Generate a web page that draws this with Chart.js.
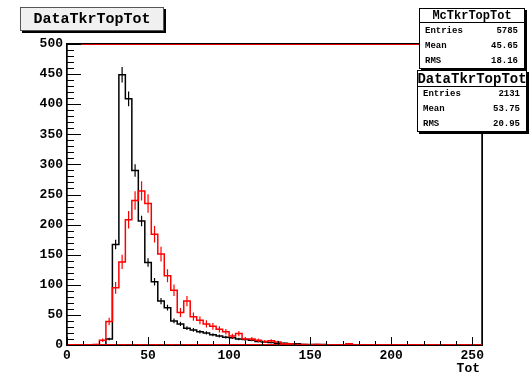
<!DOCTYPE html>
<html><head><meta charset="utf-8">
<script src="https://cdn.jsdelivr.net/npm/chart.js@4.4.1/dist/chart.umd.min.js"></script>
<style>html,body{margin:0;padding:0;background:#fff;}canvas{display:block;}</style>
</head><body>
<canvas id="c" width="529" height="375"></canvas>
<script>
// ---- data ----
const histTitle = 'DataTkrTopTot';
const xTitle = 'Tot';
const binWidth = 4;           // 64 bins over 0..256
const xMin = 0, xMax = 256;
const yMin = 0, yMax = 500;
const xTickLabels = [0, 50, 100, 150, 200, 250];
const yTickLabels = [0, 50, 100, 150, 200, 250, 300, 350, 400, 450, 500];

// MC histogram (black), normalised to data entries
const mcCounts = [
  0, 0, 0, 0, 0, 0, 10, 167, 449, 409, 290, 206, 137, 105, 73, 62,
  40, 35, 28, 25, 22, 20, 17, 15, 13, 12, 10, 9, 8, 6, 5, 4,
  3, 3, 2, 2, 1, 1, 1, 1, 0, 0, 0, 0, 0, 0, 0, 0,
  0, 0, 0, 0, 0, 0, 0, 0, 0, 0, 0, 0, 0, 0, 0, 0
];
// Data histogram (red)
const dataCounts = [
  0, 0, 0, 0, 1, 8, 39, 95, 138, 208, 240, 256, 235, 184, 151, 115,
  91, 54, 73, 47, 41, 35, 31, 26, 22, 15, 19, 10, 10, 8, 6, 7,
  5, 2, 2, 1, 1, 0, 1, 0, 0, 0, 0, 2, 0, 0, 0, 0,
  0, 0, 0, 0, 0, 0, 0, 0, 0, 0, 0, 0, 0, 0, 0, 0
];
const mcEntries = 5785, dataEntries = 2131;
const mcStatsName = 'McTkrTopTot';
const mcStatLabels = ['Entries', 'Mean', 'RMS'];
const mcStatValues = ['5785', '45.65', '18.16'];
const dataStatsName = 'DataTkrTopTot';
const dataStatLabels = ['Entries', 'Mean', 'RMS'];
const dataStatValues = ['2131', '53.75', '20.95'];

// ---- build library datasets ----
function stepPoints(counts) {
  const pts = counts.map((v, i) => ({x: xMin + i * binWidth, y: v}));
  pts.push({x: xMin + counts.length * binWidth, y: counts[counts.length - 1]});
  return pts;
}
function errPoints(counts, scale) {
  const pts = [];
  counts.forEach((v, i) => {
    if (v <= 0) return;
    const c = xMin + (i + 0.5) * binWidth;
    const e = Math.sqrt(v * scale);
    pts.push({x: c, y: v - e}, {x: c, y: v + e}, {x: c, y: null});
  });
  return pts;
}
const mcScale = dataEntries / mcEntries;

const FONT = "'Liberation Mono', 'Courier New', monospace";

const rootDecor = {
  id: 'rootDecor',
  beforeDraw(chart) {
    const ctx = chart.ctx;
    ctx.save();
    ctx.fillStyle = '#fff';
    ctx.fillRect(0, 0, chart.width, chart.height);
    ctx.restore();
  },
  afterDatasetsDraw(chart) {
    const {ctx, chartArea: a, scales: {x, y}} = chart;
    ctx.save();
    // frame
    ctx.strokeStyle = '#000';
    ctx.lineWidth = 2;
    ctx.strokeRect(a.left, a.top, a.right - a.left, a.bottom - a.top);
    ctx.strokeStyle = '#e00000';
    ctx.lineWidth = 1;
    ctx.strokeRect(a.left + 0.5, a.top + 0.5, a.right - a.left - 1, a.bottom - a.top - 1);
    // ticks
    ctx.strokeStyle = '#000';
    ctx.lineWidth = 1;
    ctx.beginPath();
    for (let v = yMin; v <= yMax; v += 10) {
      const py = Math.round(y.getPixelForValue(v)) + 0.5;
      const len = (v % 50 === 0) ? 14 : 7;
      ctx.moveTo(a.left, py); ctx.lineTo(a.left + len, py);
    }
    for (let v = xMin; v <= 250; v += 10) {
      const px = Math.round(x.getPixelForValue(v)) + 0.5;
      const len = (v % 50 === 0) ? 8 : 4;
      ctx.moveTo(px, a.bottom); ctx.lineTo(px, a.bottom - len);
    }
    ctx.stroke();
    // x axis title
    ctx.fillStyle = '#000';
    ctx.font = "bold 13px " + FONT;
    ctx.textAlign = 'right';
    ctx.textBaseline = 'middle';
    ctx.fillText(xTitle, a.right - 2, a.bottom + 24);
    ctx.restore();
  },
  afterDraw(chart) {
    const ctx = chart.ctx;
    ctx.save();
    function shadowBox(x0, y0, w, h, fill, sh, border) {
      ctx.fillStyle = '#000';
      ctx.fillRect(x0 + sh, y0 + sh, w, h);
      ctx.fillStyle = fill;
      ctx.fillRect(x0, y0, w, h);
      ctx.strokeStyle = border;
      ctx.lineWidth = 1;
      ctx.strokeRect(x0 + 0.5, y0 + 0.5, w - 1, h - 1);
    }
    // title box
    shadowBox(20, 7, 144, 24, '#f0f0f0', 2, '#555');
    ctx.fillStyle = '#000';
    ctx.font = "bold 15px " + FONT;
    ctx.textAlign = 'center';
    ctx.textBaseline = 'middle';
    ctx.fillText(histTitle, 92, 19);

    function statBox(x0, y0, w, h, sepY, name, nameSize, labels, values, rowYs) {
      shadowBox(x0, y0, w, h, '#fff', 2, '#000');
      ctx.strokeStyle = '#000';
      ctx.beginPath();
      ctx.moveTo(x0, sepY + 0.5); ctx.lineTo(x0 + w, sepY + 0.5);
      ctx.stroke();
      ctx.fillStyle = '#000';
      ctx.textBaseline = 'middle';
      ctx.textAlign = 'center';
      ctx.font = "bold " + nameSize + "px " + FONT;
      ctx.fillText(name, x0 + w / 2, (y0 + sepY) / 2 + 1);
      ctx.font = "bold 9px " + FONT;
      labels.forEach((l, i) => {
        ctx.textAlign = 'left';
        ctx.fillText(l, x0 + 6, rowYs[i]);
        ctx.textAlign = 'right';
        ctx.fillText(values[i], x0 + w - 7, rowYs[i]);
      });
    }
    statBox(419, 8, 106, 61, 22, mcStatsName, 12, mcStatLabels, mcStatValues, [31, 46, 61]);
    statBox(417, 70, 110, 62, 86, dataStatsName, 14, dataStatLabels, dataStatValues, [93.5, 108.5, 124]);
    ctx.restore();
  }
};

new Chart(document.getElementById('c'), {
  type: 'line',
  data: {
    datasets: [
      {label: 'Data', data: stepPoints(dataCounts), stepped: 'before', borderColor: '#ff0000', borderWidth: 1.5, pointRadius: 0, fill: false, order: 0},
      {label: 'Data err', data: errPoints(dataCounts, 1), borderColor: '#ff0000', borderWidth: 1.2, pointRadius: 0, spanGaps: false, fill: false, order: 1},
      {label: 'MC', data: stepPoints(mcCounts), stepped: 'before', borderColor: '#000000', borderWidth: 1.5, pointRadius: 0, fill: false, order: 2},
      {label: 'MC err', data: errPoints(mcCounts, mcScale), borderColor: '#000000', borderWidth: 1.2, pointRadius: 0, spanGaps: false, fill: false, order: 3}
    ]
  },
  options: {
    responsive: false,
    animation: false,
    devicePixelRatio: 1,
    layout: {padding: {top: 44, right: 47, left: 0, bottom: 0}},
    plugins: {legend: {display: false}, tooltip: {enabled: false}, title: {display: false}},
    scales: {
      x: {
        type: 'linear', min: xMin, max: xMax,
        grid: {display: false, drawTicks: false}, border: {display: false},
        afterBuildTicks: (s) => { s.ticks = xTickLabels.map(v => ({value: v})); },
        ticks: {color: '#000', font: {family: FONT, weight: 'bold', size: 13}, padding: 3, maxRotation: 0, autoSkip: false},
        afterFit: (s) => { s.height = 30; }
      },
      y: {
        type: 'linear', min: yMin, max: yMax,
        grid: {display: false, drawTicks: false}, border: {display: false},
        afterBuildTicks: (s) => { s.ticks = yTickLabels.map(v => ({value: v})); },
        ticks: {color: '#000', font: {family: FONT, weight: 'bold', size: 13}, padding: 4, autoSkip: false},
        afterFit: (s) => { s.width = 67; }
      }
    }
  },
  plugins: [rootDecor]
});
</script>
</body></html>
